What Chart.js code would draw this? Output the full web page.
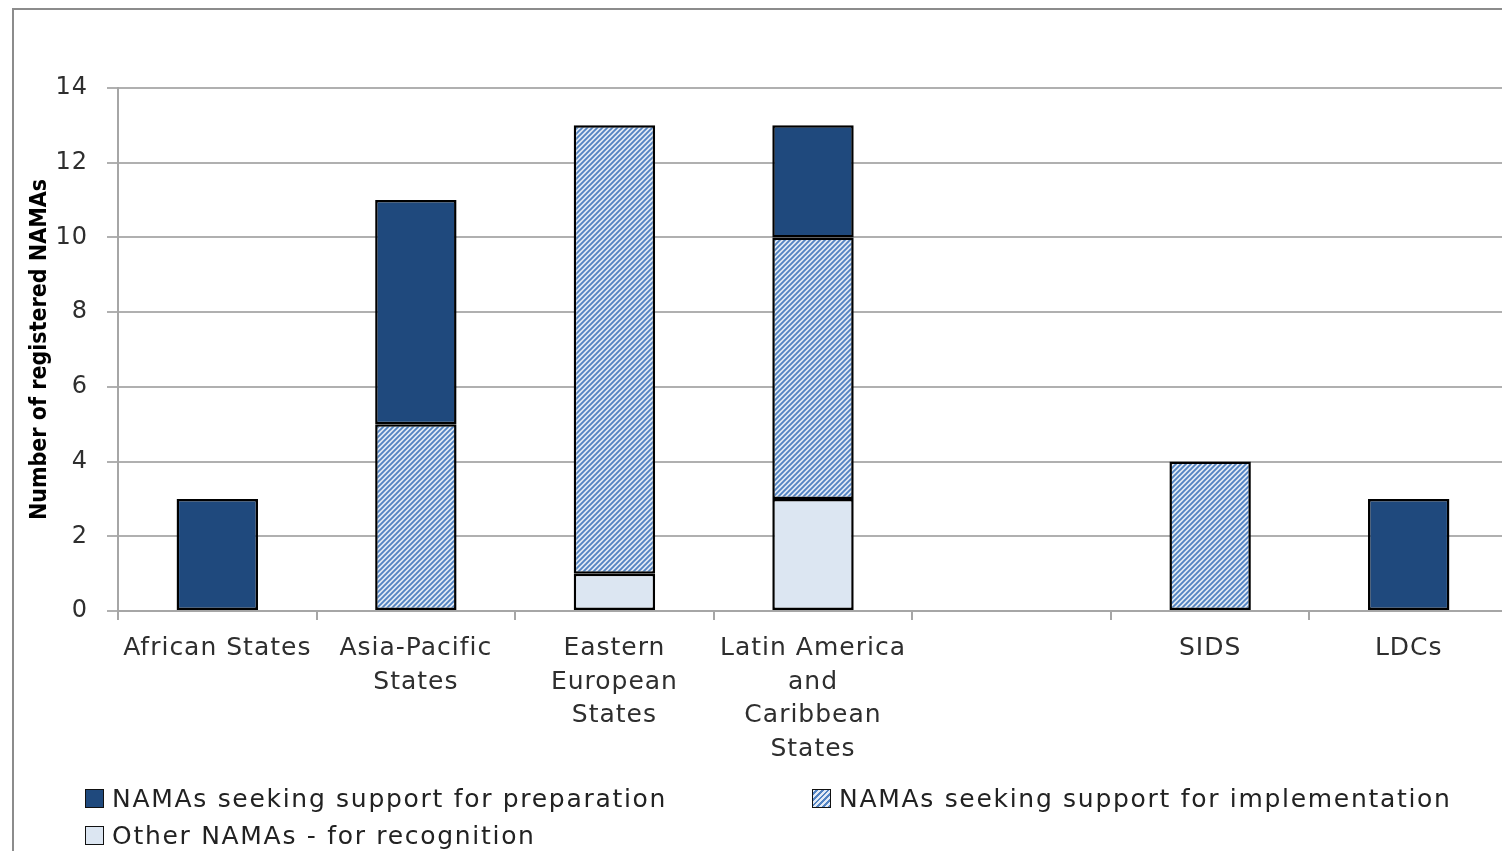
<!DOCTYPE html>
<html>
<head>
<meta charset="utf-8">
<script src="https://cdn.jsdelivr.net/npm/chart.js@4.4.1/dist/chart.umd.min.js"></script>
<style>
  html, body { margin: 0; padding: 0; background: #fff; overflow: hidden; }
  #frame { position: absolute; left: 12px; top: 8px; width: 2000px; height: 2000px;
           border-left: 2px solid #8c8c8c; border-top: 2px solid #8c8c8c; }
  #wrap { position: absolute; left: 0; top: 0; width: 1508px; height: 851px; }
  #legend { position: absolute; left: 0; top: 0; font-family: "DejaVu Sans", sans-serif;
            font-size: 25px; letter-spacing: 1.7px; color: #222; }
  .item { position: absolute; white-space: nowrap; display: flex; align-items: center; }
  .box { width: 17px; height: 17px; border: 1.5px solid #111; margin-right: 8px; }
</style>
</head>
<body>
<div id="frame"></div>
<div id="wrap"><canvas id="graph"></canvas></div>
<div id="legend"></div>
<script>
// Données
const categories = [
  'African States',
  ['Asia-Pacific', 'States'],
  ['Eastern', 'European', 'States'],
  ['Latin America', 'and', 'Caribbean', 'States'],
  '',
  'SIDS',
  'LDCs'
];
const preparation    = [3, 6, 0, 3, 0, 0, 3];
const implementation = [0, 5, 12, 7, 0, 4, 0];
const recognition    = [0, 0, 1, 3, 0, 0, 0];
const yTicks = [0, 2, 4, 6, 8, 10, 12, 14];

const yTitle = 'Number of registered NAMAs';
const labelPrep = 'NAMAs seeking support for preparation';
const labelImpl = 'NAMAs seeking support for implementation';
const labelOther = 'Other NAMAs - for recognition';

// Motif hachuré pour la série "implementation"
function hatch() {
  const c = document.createElement('canvas');
  c.width = 5; c.height = 5;
  const g = c.getContext('2d');
  g.fillStyle = '#e2eaf5';
  g.fillRect(0, 0, 5, 5);
  g.strokeStyle = '#5283c2';
  g.lineWidth = 1.9;
  g.beginPath();
  g.moveTo(-1, 6); g.lineTo(6, -1);
  g.moveTo(-1, 1); g.lineTo(1, -1);
  g.moveTo(4, 6); g.lineTo(6, 4);
  g.stroke();
  return g.createPattern(c, 'repeat');
}

const colPrep = '#1f497d';
const colImpl = hatch();
const colOther = '#dce6f2';

const zeroToNull = arr => arr.map(v => v === 0 ? null : v);

// Espacement des lettres (texte plus large comme l'original) + titre de l'axe Y
const spacing = {
  id: 'spacing',
  beforeLayout: chart => { chart.ctx.letterSpacing = '1px'; },
  beforeDraw: chart => { chart.ctx.letterSpacing = '1px'; },
  afterDraw: chart => {
    const c = chart.ctx;
    const area = chart.chartArea;
    c.save();
    c.letterSpacing = '0px';
    c.translate(40, (area.top + area.bottom) / 2);
    c.rotate(-Math.PI / 2);
    c.font = 'bold 23px "DejaVu Sans Condensed", sans-serif';
    c.fillStyle = '#000';
    c.textAlign = 'center';
    c.textBaseline = 'middle';
    c.fillText(yTitle, 0, 0);
    c.restore();
  }
};

const ctx = document.getElementById('graph').getContext('2d');
new Chart(ctx, {
  type: 'bar',
  plugins: [spacing],
  data: {
    labels: categories,
    datasets: [
      { label: labelOther, data: zeroToNull(recognition), backgroundColor: colOther },
      { label: labelImpl, data: zeroToNull(implementation), backgroundColor: colImpl },
      { label: labelPrep, data: zeroToNull(preparation), backgroundColor: colPrep }
    ].map(d => Object.assign(d, {
      borderColor: '#000',
      borderWidth: 2.5,
      borderSkipped: false,
      barPercentage: 0.41,
      categoryPercentage: 1
    }))
  },
  options: {
    responsive: true,
    maintainAspectRatio: false,
    animation: false,
    layout: { padding: { top: 88, left: 0, right: 0, bottom: 0 } },
    plugins: {
      legend: { display: false },
      tooltip: { enabled: false }
    },
    scales: {
      x: {
        stacked: true,
        offset: true,
        grid: { offset: true, drawOnChartArea: false, color: '#a6a6a6', lineWidth: 2, tickLength: 9 },
        border: { color: '#a6a6a6', width: 2 },
        ticks: {
          color: '#2e2e2e',
          padding: 12,
          maxRotation: 0,
          autoSkip: false,
          font: { family: 'DejaVu Sans', size: 25, lineHeight: 1.34 }
        },
        afterFit: s => { s.height = 851 - 611; }
      },
      y: {
        stacked: true,
        min: 0,
        max: 14,
        afterBuildTicks: s => { s.ticks = yTicks.map(v => ({ value: v })); },
        grid: { color: '#b0b0b0', lineWidth: 2, tickLength: 11 },
        border: { color: '#a6a6a6', width: 2 },
        ticks: {
          color: '#2e2e2e',
          padding: 19,
          font: { family: 'DejaVu Sans', size: 24 }
        },
        title: { display: false },
        afterFit: s => { s.width = 118; }
      }
    }
  }
});

// Légende HTML (disposition sur deux colonnes comme l'original)
const legendItems = [
  { text: labelPrep, color: colPrep, x: 85, y: 798 },
  { text: labelImpl, color: '#9bb7dd', x: 812, y: 798, hatched: true },
  { text: labelOther, color: colOther, x: 85, y: 835 }
];
const legend = document.getElementById('legend');
legendItems.forEach(it => {
  const el = document.createElement('div');
  el.className = 'item';
  el.style.left = it.x + 'px';
  el.style.top = (it.y - 17) + 'px';
  el.style.height = '34px';
  const box = document.createElement('span');
  box.className = 'box';
  box.style.background = it.hatched
    ? 'repeating-linear-gradient(135deg, #e2eaf5 0 2px, #5283c2 2px 4px)'
    : it.color;
  const txt = document.createElement('span');
  txt.textContent = it.text;
  el.appendChild(box);
  el.appendChild(txt);
  legend.appendChild(el);
});
</script>
</body>
</html>
